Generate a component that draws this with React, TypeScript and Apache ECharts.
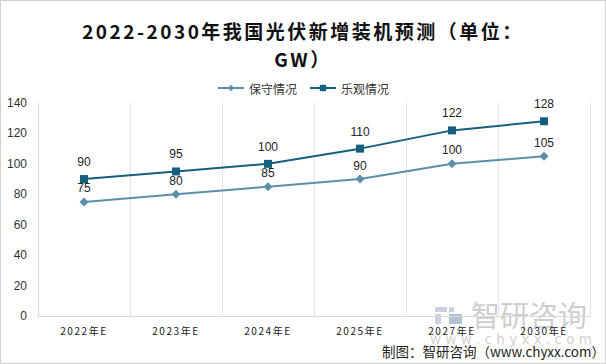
import React, { useEffect, useRef } from "react";
import * as echarts from "echarts";

const categories = ["2022年E", "2023年E", "2024年E", "2025年E", "2027年E", "2030年E"];
const conservative = [75, 80, 85, 90, 100, 105];
const optimistic = [90, 95, 100, 110, 122, 128];
const seriesNames = ["保守情况", "乐观情况"];
const titleText = "2022-2030年我国光伏新增装机预测（单位：\nGW）";
const footerText = "制图：智研咨询（www.chyxx.com）";

const DARK = "#15607e";
const LIGHT = "#5b90a9";

export default function App() {
  const ref = useRef<HTMLDivElement>(null);
  useEffect(() => {
    if (!ref.current) return;
    const chart = echarts.init(ref.current, null, { renderer: "svg" });
    chart.setOption({
      animation: false,
      backgroundColor: "#ffffff",
      title: {
        text: titleText,
        left: "center",
        top: 11,
        textStyle: {
          fontFamily: "Noto Sans CJK SC",
          fontWeight: "bold",
          fontSize: 19,
          lineHeight: 28,
          color: "#111111",
        },
      },
      legend: {
        data: seriesNames,
        top: 77,
        left: "center",
        itemWidth: 26,
        itemHeight: 8,
        itemGap: 12,
        textStyle: { fontFamily: "Noto Sans CJK SC", fontSize: 12, color: "#333333" },
      },
      grid: { left: 38, right: 16, top: 103, bottom: 48, containLabel: false },
      xAxis: {
        type: "category",
        data: categories,
        boundaryGap: true,
        axisLine: { show: true, lineStyle: { color: "#d9d9d9" } },
        axisTick: { show: false },
        splitLine: { show: true, lineStyle: { color: "#e4e4e4" } },
        axisLabel: {
          fontFamily: "Noto Sans CJK SC",
          fontSize: 10,
          color: "#222222",
          margin: 9,
        },
      },
      yAxis: {
        type: "value",
        min: 0,
        max: 140,
        interval: 20,
        axisLine: { show: true, lineStyle: { color: "#d9d9d9" } },
        axisTick: { show: false },
        splitLine: { show: false },
        axisLabel: { fontFamily: "Liberation Sans", fontSize: 12, color: "#333333", margin: 11 },
      },
      series: [
        {
          name: seriesNames[0],
          type: "line",
          data: conservative,
          symbol: "diamond",
          symbolSize: 9,
          color: LIGHT,
          lineStyle: { width: 2, color: LIGHT },
          itemStyle: { color: LIGHT },
          label: {
            show: true,
            position: "top",
            distance: 3,
            fontFamily: "Liberation Sans",
            fontSize: 12,
            color: "#222222",
          },
        },
        {
          name: seriesNames[1],
          type: "line",
          data: optimistic,
          symbol: "rect",
          symbolSize: 8,
          color: DARK,
          lineStyle: { width: 2, color: DARK },
          itemStyle: { color: DARK },
          label: {
            show: true,
            position: "top",
            distance: 7,
            fontFamily: "Liberation Sans",
            fontSize: 12,
            color: "#222222",
          },
        },
      ],
      graphic: [
        {
          type: "rect",
          shape: { x: 0.5, y: 0.5, width: 605, height: 363 },
          style: { fill: "none", stroke: "#d0d0d0", lineWidth: 1 },
          silent: true,
          z: 100,
        },
        {
          type: "group",
          silent: true,
          z: 50,
          children: [
            { type: "rect", shape: { x: 435, y: 307, width: 12, height: 5 }, style: { fill: "#b9c7d6", opacity: 0.8 } },
            { type: "rect", shape: { x: 435, y: 314, width: 6, height: 10 }, style: { fill: "#b9c7d6", opacity: 0.8 } },
            { type: "rect", shape: { x: 449, y: 307, width: 5, height: 5 }, style: { fill: "#b9c7d6", opacity: 0.8 } },
            { type: "rect", shape: { x: 449, y: 314, width: 13, height: 10 }, style: { fill: "#9eb3c8", opacity: 0.8 } },
            {
              type: "text",
              x: 529,
              y: 314,
              style: {
                text: "智研咨询",
                fill: "#c8c8c8",
                opacity: 0.9,
                font: "29px 'Noto Sans CJK SC'",
                textAlign: "center",
                textVerticalAlign: "middle",
              },
            },
            {
              type: "text",
              x: 511,
              y: 339,
              style: {
                text: "w w w . c h y x x . c o m",
                fill: "#cccccc",
                opacity: 0.9,
                font: "13.5px 'DejaVu Sans'",
                textAlign: "center",
                textVerticalAlign: "middle",
              },
            },
          ],
        },
        {
          type: "text",
          x: 605,
          y: 351,
          z: 60,
          style: {
            text: footerText,
            fill: "#222222",
            font: "13.5px 'Noto Sans CJK SC'",
            textAlign: "right",
            textVerticalAlign: "middle",
          },
        },
      ],
    });
    return () => chart.dispose();
  }, []);
  return (
    <div style={{ position: "fixed", left: 0, top: 0, width: 606, height: 364 }}>
      <style>{`text[style*="bold"]{letter-spacing:2.5px} text[style*="10px"]{letter-spacing:1.6px}`}</style>
      <div ref={ref} style={{ width: 606, height: 364 }} />
    </div>
  );
}
